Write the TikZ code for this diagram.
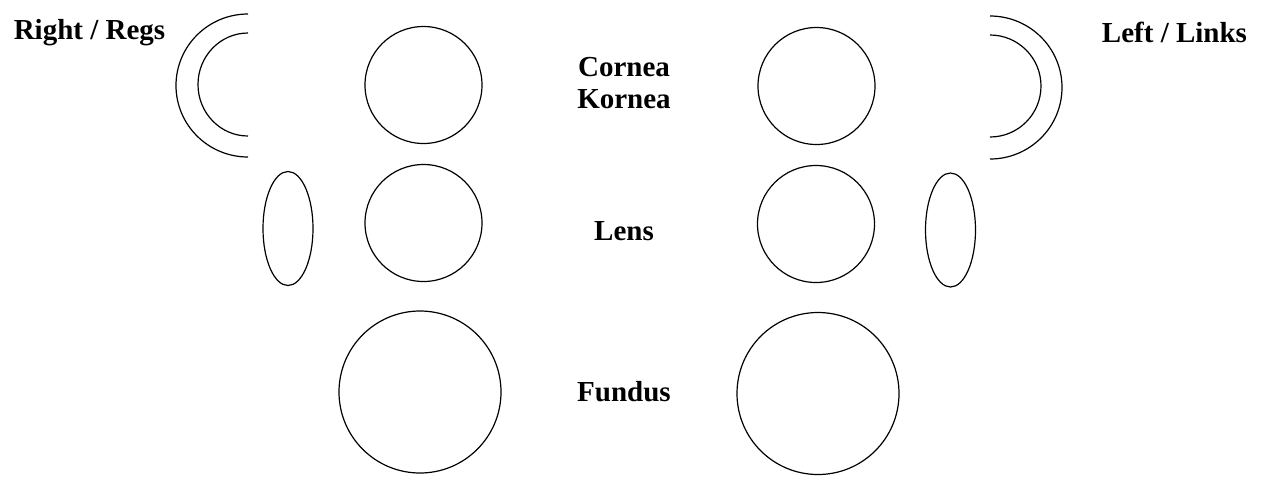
\documentclass[tikz,border=0pt]{standalone}
\usepackage{fontspec}
\setmainfont{Liberation Serif}
\usetikzlibrary{shapes.geometric}
\begin{document}
\begin{tikzpicture}[x=0.5pt,y=-0.5pt,
  line/.style={draw=black,line width=0.6pt},
  eye/.style={line,circle,inner sep=0pt,minimum size=#1*0.5pt},
  lensel/.style={line,ellipse,inner sep=0pt,minimum width=25pt,minimum height=57pt},
  lab/.style={font=\bfseries\fontsize{14.5}{16}\selectfont,inner sep=0pt,align=center}]
\useasboundingbox (0,0) rectangle (1264,484);
% labels
\node[lab,anchor=base] (right) at (89.5,39) {Right / Regs};
\node[lab,anchor=base] (left) at (1174.5,42) {Left / Links};
\node[lab] (cornea) at (624,83.5) {Cornea\\Kornea};
\node[lab,anchor=base] (lens) at (624,240) {Lens};
\node[lab,anchor=base] (fundus) at (624,401) {Fundus};
% cornea circles
\node[eye=117] (rc) at (423.5,85) {};
\node[eye=117] (lc) at (816.5,86) {};
% lens circles
\node[eye=117] (rl) at (423.5,223) {};
\node[eye=117] (ll) at (816,224) {};
% fundus circles
\node[eye=162] (rf) at (420,392) {};
\node[eye=162] (lf) at (818,393.5) {};
% lens ellipses
\node[lensel] (re) at (288,228.5) {};
\node[lensel] (le) at (950.5,230) {};
% crescents right
\draw[line] (248,14) arc[start angle=90,end angle=270,x radius=72,y radius=-71.5];
\draw[line] (248,33) arc[start angle=90,end angle=270,x radius=50,y radius=-51.5];
% crescents left
\draw[line] (990,16) arc[start angle=90,end angle=-90,x radius=72,y radius=-71.5];
\draw[line] (990,35) arc[start angle=90,end angle=-90,x radius=51,y radius=-51];
\end{tikzpicture}
\end{document}
